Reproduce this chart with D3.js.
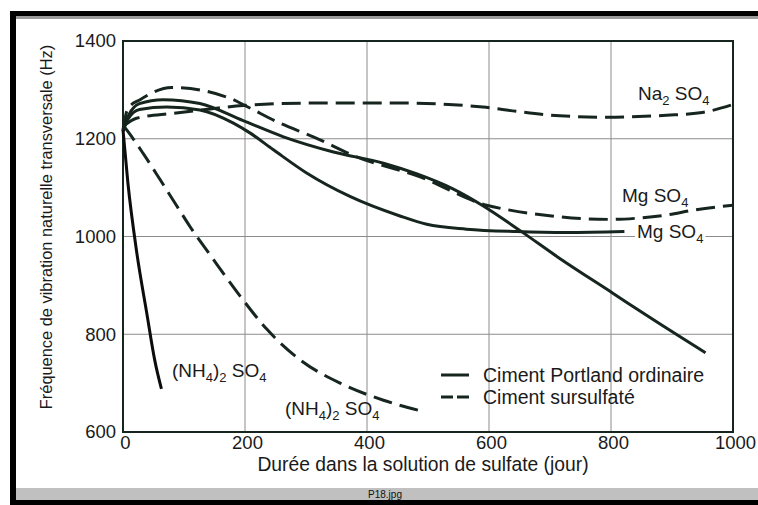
<!DOCTYPE html>
<html>
<head>
<meta charset="utf-8">
<script src="https://cdn.jsdelivr.net/npm/d3@7"></script>
<style>
  html, body { margin: 0; padding: 0; background: #fff; }
  svg { display: block; font-family: "Liberation Sans", Arial, sans-serif; }
</style>
</head>
<body>
<svg id="chart" width="758" height="505"></svg>
<script>
// Axis ticks
const xTicks = [0, 200, 400, 600, 800, 1000];
const yTicks = [600, 800, 1000, 1200, 1400];

// Ciment Portland ordinaire (solid): [jour, Hz]
const opcNa = [[0,1218],[10,1250],[27,1272],[66,1280],[126,1272],[197,1237],[263,1204],[345,1173],[427,1150],[482,1128],[540,1098],[590,1063],[651,1012],[716,955],[803,884],[869,830],[955,762]];
const opcMg = [[0,1215],[8,1240],[27,1260],[72,1265],[126,1259],[181,1232],[208,1212],[246,1178],[301,1130],[372,1082],[454,1042],[498,1025],[563,1015],[645,1010],[727,1008],[822,1010]];
const opcNH4 = [[0,1218],[8,1110],[22,972],[39,843],[52,747],[63,688]];

// Ciment sursulfaté (dashed): [jour, Hz]
const ssNa = [[0,1225],[22,1242],[82,1252],[143,1261],[197,1268],[312,1273],[454,1273],[590,1265],[645,1256],[716,1247],[793,1244],[891,1248],[946,1253],[1000,1270]];
const ssMg = [[0,1218],[8,1262],[28,1280],[80,1305],[175,1283],[203,1266],[257,1232],[312,1204],[383,1163],[487,1122],[596,1064],[634,1054],[689,1044],[761,1036],[803,1035],[848,1038],[891,1044],[935,1054],[1000,1064]];
const ssNH4 = [[0,1228],[8,1215],[33,1170],[61,1116],[88,1063],[110,1020],[143,962],[192,878],[236,810],[290,748],[356,700],[427,665],[492,642]];

const legendItems = [
  { label: "Ciment Portland ordinaire", dashed: false },
  { label: "Ciment sursulfaté", dashed: true }
];

const ink = "#16261f";
const svg = d3.select("#chart");

// Page frame
svg.append("rect").attr("x", 10).attr("y", 11).attr("width", 748).attr("height", 5).attr("fill", "#000");
svg.append("rect").attr("x", 16).attr("y", 16).attr("width", 742).attr("height", 3).attr("fill", "#9a9a9a");
svg.append("rect").attr("x", 10).attr("y", 11).attr("width", 6).attr("height", 494).attr("fill", "#000");
svg.append("rect").attr("x", 16).attr("y", 488).attr("width", 742).attr("height", 12).attr("fill", "#c0c0c0");
svg.append("rect").attr("x", 10).attr("y", 500).attr("width", 748).attr("height", 5).attr("fill", "#000");
svg.append("text").attr("x", 385).attr("y", 498).attr("text-anchor", "middle")
  .attr("font-size", 10).attr("fill", "#111").text("P18.jpg");

const x = d3.scaleLinear().domain([0, 1000]).range([123, 733]);
const y = d3.scaleLinear().domain([600, 1400]).range([432, 41]);

// Gridlines
const grid = svg.append("g").attr("stroke", "#8c8c8c").attr("stroke-width", 1);
grid.selectAll("line.h").data(yTicks.slice(1, -1)).join("line")
  .attr("x1", x(0)).attr("x2", x(1000)).attr("y1", d => y(d)).attr("y2", d => y(d));
grid.selectAll("line.v").data(xTicks.slice(1, -1)).join("line")
  .attr("y1", y(600)).attr("y2", y(1400)).attr("x1", d => x(d)).attr("x2", d => x(d));

// Axes
const xAxis = svg.append("g").attr("transform", `translate(0,${y(600)})`)
  .call(d3.axisBottom(x).tickValues(xTicks).tickSize(0).tickPadding(4).tickFormat(d3.format("d")));
const yAxis = svg.append("g").attr("transform", `translate(${x(0)},0)`)
  .call(d3.axisLeft(y).tickValues(yTicks).tickSize(0).tickPadding(7).tickFormat(d3.format("d")));
[xAxis, yAxis].forEach(a => {
  a.select(".domain").remove();
  a.selectAll("text").attr("font-size", 18.5).attr("fill", "#1a1a1a").attr("font-family", "Liberation Sans, Arial, sans-serif");
});
xAxis.selectAll("text").attr("dx", 2);

// Plot border
svg.append("rect").attr("x", x(0)).attr("y", y(1400))
  .attr("width", x(1000) - x(0)).attr("height", y(600) - y(1400))
  .attr("fill", "none").attr("stroke", ink).attr("stroke-width", 2);

// Axis titles
svg.append("text").attr("x", 423).attr("y", 471).attr("text-anchor", "middle")
  .attr("font-size", 19.3).attr("fill", "#1a1a1a").text("Durée dans la solution de sulfate (jour)");
svg.append("text").attr("transform", "translate(52,227) rotate(-90)").attr("text-anchor", "middle")
  .attr("font-size", 16.4).attr("fill", "#1a1a1a").text("Fréquence de vibration naturelle transversale  (Hz)");

// Curves
const line = d3.line().x(d => x(d[0])).y(d => y(d[1])).curve(d3.curveMonotoneX);
const curves = svg.append("g").attr("fill", "none").attr("stroke", ink).attr("stroke-width", 3)
  .attr("stroke-linecap", "butt").attr("stroke-linejoin", "round");
[opcNa, opcMg].forEach(s => curves.append("path").attr("d", line(s)));
curves.append("path").attr("d", line(opcNH4)).attr("stroke", "#0c0c0c");
[ssNa, ssMg, ssNH4].forEach(s => curves.append("path").attr("d", line(s)).attr("stroke-dasharray", "19 8"));

// Curve labels; subscripts drop 5px below the baseline
function chem(g, px, py, parts, bg) {
  const t = g.append("text").attr("x", px).attr("y", py).attr("font-size", 19).attr("fill", "#1a1a1a");
  let shift = 0;
  parts.forEach(p => {
    const target = p.sub ? 5 : 0;
    t.append("tspan").attr("dy", target - shift)
      .attr("font-size", p.sub ? 13 : null).text(p.sub || p.t);
    shift = target;
  });
  if (bg) {
    const b = t.node().getBBox();
    g.insert("rect", "text").attr("x", b.x - 2).attr("y", b.y + 3).attr("width", b.width + 4).attr("height", b.height - 5).attr("fill", "#fff");
  }
  return t;
}
const labels = svg.append("g");
chem(labels.append("g"), 638, 100, [{t: "Na"}, {sub: "2"}, {t: " SO"}, {sub: "4"}]);
chem(labels.append("g"), 622, 202, [{t: "Mg SO"}, {sub: "4"}]);
chem(labels.append("g"), 637, 238, [{t: "Mg SO"}, {sub: "4"}], true);
chem(labels.append("g"), 172, 377, [{t: "(NH"}, {sub: "4"}, {t: ")"}, {sub: "2"}, {t: " SO"}, {sub: "4"}]);
chem(labels.append("g"), 285, 415, [{t: "(NH"}, {sub: "4"}, {t: ")"}, {sub: "2"}, {t: " SO"}, {sub: "4"}]);

// Legend
const legend = svg.append("g").attr("transform", "translate(441,375)");
legendItems.forEach((it, i) => {
  const gy = i * 22;
  legend.append("line").attr("x1", 0).attr("x2", 28).attr("y1", gy).attr("y2", gy)
    .attr("stroke", ink).attr("stroke-width", 3).attr("stroke-dasharray", it.dashed ? "12 4" : null);
  legend.append("text").attr("x", 42).attr("y", gy + 7).attr("font-size", 19.5).attr("fill", "#1a1a1a").text(it.label);
});
</script>
</body>
</html>
